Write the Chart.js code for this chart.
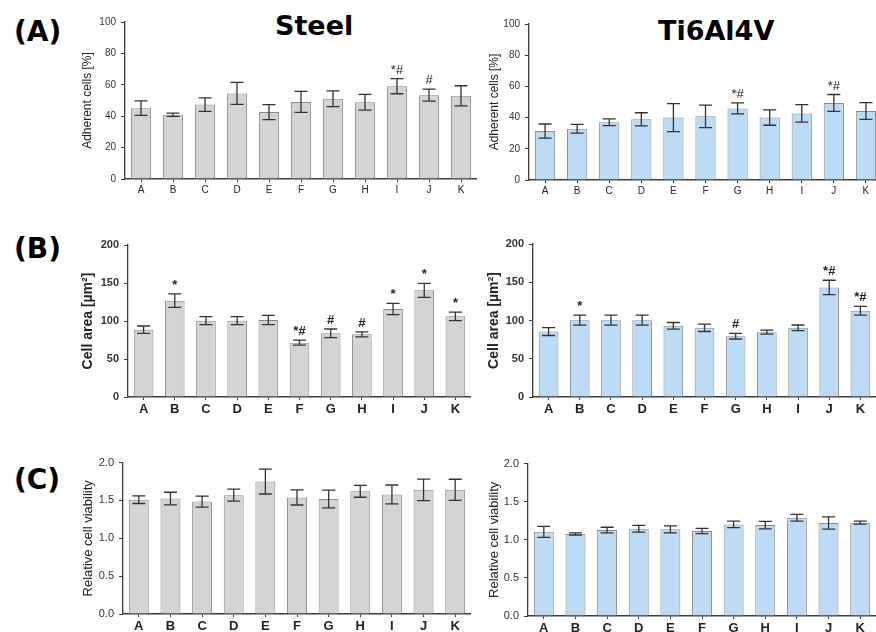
<!DOCTYPE html>
<html>
<head>
<meta charset="utf-8">
<script src="https://cdn.jsdelivr.net/npm/chart.js@4"></script>
<style>
  body { margin: 0; background: #fff; overflow: hidden; width: 876px; height: 632px; position: relative; }
  canvas { position: absolute; }
  .lbl { position: absolute; font-family: "DejaVu Sans", sans-serif; font-weight: bold; color: #000; line-height: 0; white-space: nowrap; }
</style>
</head>
<body>
<div class="lbl" style="left:14px; top:32px; font-size:28px;">(A)</div>
<div class="lbl" style="left:14px; top:249px; font-size:28px;">(B)</div>
<div class="lbl" style="left:14px; top:480px; font-size:28px;">(C)</div>
<div class="lbl" style="left:275px; top:26px; font-size:27px;">Steel</div>
<div class="lbl" style="left:658px; top:31px; font-size:27px;">Ti6Al4V</div>

<canvas id="steelAdh"></canvas>
<canvas id="tiAdh"></canvas>
<canvas id="steelArea"></canvas>
<canvas id="tiArea"></canvas>
<canvas id="steelVia"></canvas>
<canvas id="tiVia"></canvas>

<script>
// groups on the x axis
let categories = ['A', 'B', 'C', 'D', 'E', 'F', 'G', 'H', 'I', 'J', 'K'];

// (A) adherent cells [%]
let steelAdh    = [45.1, 40.9, 47.4, 54.5, 42.6, 49.1, 51.1, 48.9, 59.1, 53.4, 53.0];
let steelAdhErr = [4.6, 1.0, 4.3, 7.0, 4.8, 6.7, 5.0, 5.0, 4.8, 3.8, 6.4];
let steelAdhSig = ['', '', '', '', '', '', '', '', '*#', '#', ''];
let tiAdh       = [31.4, 32.9, 37.0, 38.9, 40.0, 40.8, 45.9, 40.0, 42.7, 49.4, 44.2];
let tiAdhErr    = [4.5, 2.8, 2.2, 4.2, 9.0, 7.2, 3.5, 4.9, 5.6, 5.4, 5.4];
let tiAdhSig    = ['', '', '', '', '', '', '*#', '', '', '*#', ''];

// (B) cell area [µm²]
let steelArea    = [88.6, 126.8, 100.4, 100.4, 101.3, 71.5, 83.8, 82.5, 115.8, 140.4, 106.1];
let steelAreaErr = [4.8, 9.0, 5.3, 5.3, 6.0, 3.3, 5.7, 3.3, 7.5, 9.2, 5.5];
let steelAreaSig = ['', '*', '', '', '', '*#', '#', '#', '*', '*', '*'];
let tiArea       = [85.6, 100.4, 100.4, 100.4, 93.0, 90.4, 79.5, 84.7, 90.4, 143.2, 112.7];
let tiAreaErr    = [5.2, 6.5, 6.5, 6.5, 4.4, 4.8, 3.7, 2.6, 3.7, 9.4, 5.7];
let tiAreaSig    = ['', '*', '', '', '', '', '#', '', '', '*#', '*#'];

// (C) relative cell viability
let steelVia    = [1.51, 1.525, 1.485, 1.57, 1.75, 1.54, 1.52, 1.62, 1.58, 1.64, 1.64];
let steelViaErr = [0.05, 0.083, 0.072, 0.08, 0.165, 0.1, 0.117, 0.078, 0.124, 0.143, 0.14];
let tiVia       = [1.105, 1.077, 1.128, 1.145, 1.137, 1.115, 1.202, 1.193, 1.289, 1.22, 1.225];
let tiViaErr    = [0.072, 0.015, 0.037, 0.043, 0.045, 0.035, 0.043, 0.05, 0.045, 0.08, 0.02];

const steelFill = '#d4d4d4';
const tiFill = '#bddbf4';
const axisColor = '#3c3c3c';
const textFont = '"Liberation Sans", Arial, sans-serif';

// draws mean +/- SD whiskers and the significance marks
const errorBars = {
  id: 'errorBars',
  afterDatasetsDraw(chart) {
    let ds = chart.data.datasets[0];
    let meta = chart.getDatasetMeta(0);
    let y = chart.scales.y;
    let ctx = chart.ctx;
    ctx.save();
    ctx.strokeStyle = '#333';
    ctx.lineWidth = 1.3;
    meta.data.forEach(function (bar, i) {
      let v = ds.data[i], e = ds.errors[i];
      let top = y.getPixelForValue(v + e);
      let bot = y.getPixelForValue(v - e);
      ctx.beginPath();
      ctx.moveTo(bar.x, top); ctx.lineTo(bar.x, bot);
      ctx.moveTo(bar.x - 6.5, top); ctx.lineTo(bar.x + 6.5, top);
      ctx.moveTo(bar.x - 6.5, bot); ctx.lineTo(bar.x + 6.5, bot);
      ctx.stroke();
      if (ds.sig && ds.sig[i]) {
        ctx.fillStyle = '#222';
        ctx.font = ds.sigFont;
        ctx.textAlign = 'center';
        ctx.textBaseline = 'alphabetic';
        ctx.fillText(ds.sig[i], bar.x, top - 5);
      }
    });
    ctx.restore();
  }
};

function runGraph(id, g, values, errs, sig, fill, ax) {
  let canvas = document.getElementById(id);
  let yw = g.left - g.canvasLeft;
  canvas.width = g.right - g.canvasLeft;
  canvas.height = g.bottom - g.top + g.pt + g.xh;
  canvas.style.left = g.canvasLeft + 'px';
  canvas.style.top = (g.top - g.pt) + 'px';

  return new Chart(canvas.getContext('2d'), {
    type: 'bar',
    data: {
      labels: categories,
      datasets: [{
        data: values,
        errors: errs,
        sig: sig,
        sigFont: ax.sigFont,
        backgroundColor: fill,
        borderColor: '#8a8a8a',
        borderWidth: 1,
        categoryPercentage: 1,
        barPercentage: 0.63
      }]
    },
    options: {
      responsive: false,
      animation: false,
      layout: { padding: { top: g.pt, left: 0, right: 0, bottom: 0 } },
      plugins: { legend: { display: false }, tooltip: { enabled: false } },
      scales: {
        x: {
          offset: true,
          grid: { drawOnChartArea: false, offset: false, tickLength: 3, color: axisColor },
          border: { color: axisColor, width: 1.5 },
          ticks: { color: '#222', padding: ax.xPad, font: { family: textFont, size: ax.xSize, weight: ax.xWeight } },
          afterFit: function (s) { s.height = g.xh; }
        },
        y: {
          min: ax.min, max: ax.max,
          grid: { drawOnChartArea: false, tickLength: 4, color: axisColor },
          border: { color: axisColor, width: 1.3 },
          ticks: {
            stepSize: ax.step, color: '#333', padding: ax.yPad,
            font: { family: textFont, size: ax.ySize, weight: ax.yWeight },
            callback: function (v) { return ax.decimals ? v.toFixed(ax.decimals) : v; }
          },
          title: {
            display: true, text: ax.title, color: '#222',
            padding: { top: ax.titlePad, bottom: 0 },
            font: { family: textFont, size: ax.titleSize, weight: ax.titleWeight }
          },
          afterFit: function (s) { s.width = yw; }
        }
      }
    },
    plugins: [errorBars]
  });
}

let axA = { min: 0, max: 100, step: 20, decimals: 0, ySize: 10, yWeight: 'normal', yPad: 5,
  xSize: 10, xWeight: 'normal', xPad: 2, title: 'Adherent cells [%]', titleSize: 12, titleWeight: 'normal',
  titlePad: 10.8, sigFont: '13px ' + textFont };
let axB = { min: 0, max: 200, step: 50, decimals: 0, ySize: 11, yWeight: 'bold', yPad: 5,
  xSize: 13, xWeight: 'bold', xPad: 2, title: 'Cell area [µm²]', titleSize: 14, titleWeight: 'bold',
  titlePad: 9.6, sigFont: 'bold 13px ' + textFont };
let axC = { min: 0, max: 2, step: 0.5, decimals: 1, ySize: 11, yWeight: 'normal', yPad: 5,
  xSize: 13, xWeight: 'bold', xPad: 2, title: 'Relative cell viability', titleSize: 13, titleWeight: 'normal',
  titlePad: 10.2, sigFont: '13px ' + textFont };

runGraph('steelAdh', { left: 125, right: 477, top: 22, bottom: 179, canvasLeft: 70, pt: 12, xh: 22 },
  steelAdh, steelAdhErr, steelAdhSig, steelFill, axA);
runGraph('tiAdh', { left: 529, right: 882, top: 24, bottom: 180, canvasLeft: 476, pt: 12, xh: 22 },
  tiAdh, tiAdhErr, tiAdhSig, tiFill, Object.assign({}, axA, { titlePad: 11.8 }));
runGraph('steelArea', { left: 128, right: 471, top: 245, bottom: 397, canvasLeft: 70, pt: 12, xh: 24 },
  steelArea, steelAreaErr, steelAreaSig, steelFill, axB);
runGraph('tiArea', { left: 533, right: 876, top: 244, bottom: 397, canvasLeft: 476, pt: 12, xh: 24 },
  tiArea, tiAreaErr, tiAreaSig, tiFill, axB);
runGraph('steelVia', { left: 123, right: 471, top: 461, bottom: 614, canvasLeft: 70, pt: 10, xh: 24 },
  steelVia, steelViaErr, null, steelFill, axC);
runGraph('tiVia', { left: 528, right: 876, top: 462, bottom: 616, canvasLeft: 476, pt: 10, xh: 24 },
  tiVia, tiViaErr, null, tiFill, axC);
</script>
</body>
</html>
